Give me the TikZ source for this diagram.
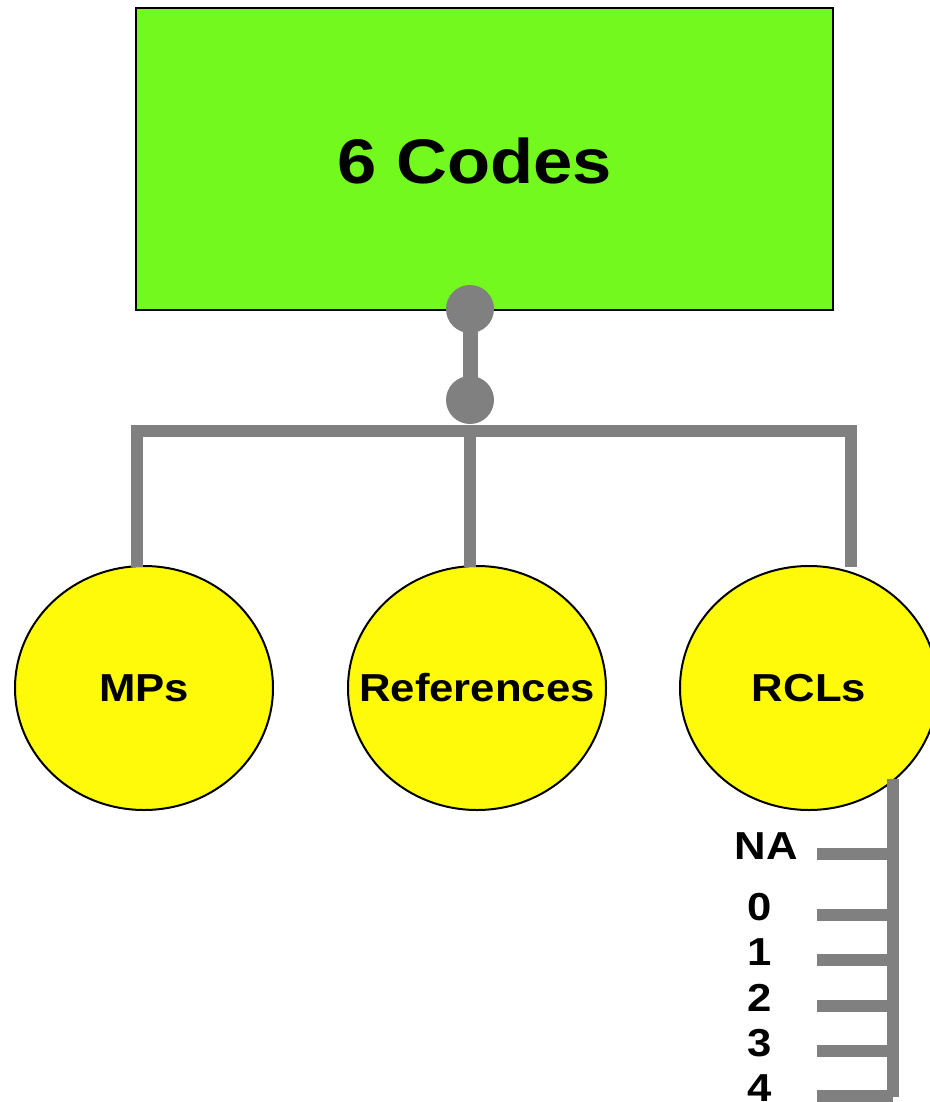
\documentclass[tikz,border=0pt]{standalone}
\usepackage{fontspec}
\setmainfont{Liberation Sans}[FakeStretch=1.12]
\usetikzlibrary{shapes.geometric}
\definecolor{codegreen}{RGB}{116,249,31}
\definecolor{bubble}{RGB}{255,250,10}
\definecolor{conngray}{RGB}{128,128,128}
\tikzset{
  codebox/.style={draw=black, line width=1.5pt, fill=codegreen, minimum width=697pt, minimum height=302pt, inner sep=0pt},
  bigtext/.style={font=\fontsize{63}{63}\selectfont\bfseries, inner sep=0pt},
  bubblenode/.style={ellipse, draw=black, line width=2pt, fill=bubble, minimum width=258pt, minimum height=244pt, inner sep=0pt},
  bubbletext/.style={font=\fontsize{39}{39}\selectfont\bfseries, inner sep=0pt},
  dotnode/.style={circle, fill=conngray, minimum size=48pt, inner sep=0pt},
  conn/.style={draw=conngray, line width=12.5pt},
  stem/.style={draw=conngray, line width=15pt},
  lvl/.style={font=\fontsize{39}{39}\selectfont\bfseries, inner sep=0pt}
}
\begin{document}
\begin{tikzpicture}[x=1pt,y=-1pt]
\useasboundingbox (0,0) rectangle (929,1102);
% top box
\node[codebox] (codes) at (484.5,159) {};
\node[bigtext] (codestext) at (475,161) {6 Codes};
% connector dots
\draw[stem] (470,309) -- (470,400);
\node[dotnode] (d1) at (470,309) {};
\node[dotnode] (d2) at (470,400) {};
% ellipses
\node[bubblenode] (mps) at (144,688) {};
\node[bubbletext] (mpstext) at (mps.center) {MPs};
\node[bubblenode] (refs) at (477,688) {};
\node[bubbletext] (refstext) at (refs.center) {References};
\node[bubblenode] (rcl) at (809,688) {};
\node[bubbletext] (rcltext) at (rcl.center) {RCLs};
% branch bar
\coordinate (jl) at (137,431);
\coordinate (jm) at (470,431);
\coordinate (jr) at (851,431);
\coordinate (lend) at (137,567);
\coordinate (mend) at (470,567);
\coordinate (rend) at (851,567);
\draw[conn] (lend) -- (jl) -- (jr) -- (rend);
\draw[conn] (jm) -- (mend);
% RCL scale
\coordinate (btop) at (893,779);
\coordinate (bbot) at (893,1097);
\draw[conn] (btop) -- (bbot);
\foreach \name/\lab/\ty/\lx in {na/NA/854/766, l0/0/915/760, l1/1/960/760, l2/2/1006/760, l3/3/1051/760, l4/4/1096/760}{
  \coordinate (t\name) at (893,\ty);
  \coordinate (s\name) at (817,\ty);
  \draw[conn] (s\name) -- (t\name);
  \node[lvl] (\name) at (\lx,\ty-8) {\lab};
}
\end{tikzpicture}
\end{document}
